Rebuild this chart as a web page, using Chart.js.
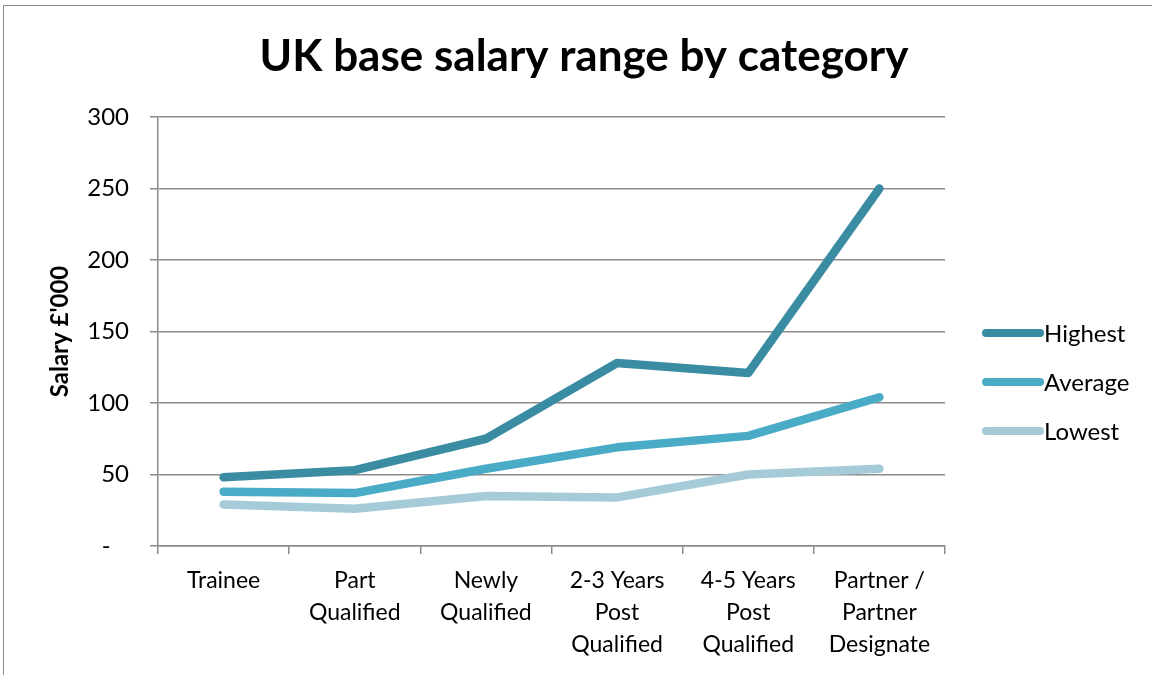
<!DOCTYPE html>
<html lang='en'>
<head>
  <meta charset='UTF-8'>
  <title>UK base salary range by category</title>
  <script src="https://cdn.jsdelivr.net/npm/chart.js@4.4.1/dist/chart.umd.min.js"></script>
  <style>
    html, body { margin:0; padding:0; background:#fff; }
    #frame { position:absolute; left:3px; top:5px; width:1160px; height:700px; border-left:1.5px solid #8c8c8c; border-top:1.5px solid #8c8c8c; }
    #wrap { position:absolute; left:0; top:0; width:1152px; height:675px; }
  </style>
</head>
<body>
  <div id="frame"></div>
  <div id="wrap"><canvas id="myChart" width="1152" height="675"></canvas></div>
<script>
  // data
  var categories = [
    'Trainee',
    ['Part', 'Qualified'],
    ['Newly', 'Qualified'],
    ['2-3 Years', 'Post', 'Qualified'],
    ['4-5 Years', 'Post', 'Qualified'],
    ['Partner /', 'Partner', 'Designate']
  ];
  var highest = [48, 53, 75, 128, 121, 250];
  var average = [38, 37, 54, 69, 77, 104];
  var lowest  = [29, 26, 35, 34, 50, 54];
  var yTicks  = [0, 50, 100, 150, 200, 250, 300];

  var FONT = 'Lato, "Open Sans", sans-serif';
  var GRID = '#8c8c8c';

  // title + legend drawn on the canvas
  var extras = {
    id: 'extras',
    afterDraw: function(chart){
      var c = chart.ctx;
      c.save();
      c.fillStyle = '#000';
      c.font = 'bold 44px ' + FONT;
      c.textAlign = 'center';
      c.textBaseline = 'middle';
      c.fillText('UK base salary range by category', 584, 57);

      c.font = '24px ' + FONT;
      c.textAlign = 'left';
      chart.data.datasets.forEach(function(ds, i){
        var y = 333 + i * 49;
        c.strokeStyle = ds.borderColor;
        c.lineWidth = 8;
        c.lineCap = 'round';
        c.beginPath();
        c.moveTo(986, y);
        c.lineTo(1040, y);
        c.stroke();
        c.fillText(ds.label, 1044, y + 1);
      });
      c.restore();
    }
  };

  var ctx = document.getElementById('myChart').getContext('2d');
  var myChart = new Chart(ctx, {
    type: 'line',
    data: {
      labels: categories,
      datasets: [
        { label: 'Highest', data: highest, borderColor: '#398ca1' },
        { label: 'Average', data: average, borderColor: '#4aabc6' },
        { label: 'Lowest',  data: lowest,  borderColor: '#a5cbd8' }
      ]
    },
    options: {
      responsive: false,
      animation: false,
      layout: { padding: { left: 46, top: 117, right: 207, bottom: 0 } },
      elements: {
        line: { borderWidth: 8.5, tension: 0, borderCapStyle: 'round', borderJoinStyle: 'round' },
        point: { radius: 0, hoverRadius: 0 }
      },
      plugins: {
        legend: { display: false },
        title: { display: false },
        tooltip: { enabled: false }
      },
      scales: {
        x: {
          offset: true,
          afterFit: function(s){ s.height = 129; },
          grid: { offset: true, drawOnChartArea: false, drawTicks: true, tickLength: 8, color: GRID, lineWidth: 1.5 },
          border: { color: GRID, width: 1.5 },
          ticks: { color: '#000', font: { family: FONT, size: 23, lineHeight: 1.4 }, padding: 10, maxRotation: 0, autoSkip: false }
        },
        y: {
          min: 0, max: 300,
          afterFit: function(s){ s.width = 112; },
          afterBuildTicks: function(s){ s.ticks = yTicks.map(function(v){ return { value: v }; }); },
          grid: { color: GRID, lineWidth: 1.5, tickLength: 8 },
          border: { color: GRID, width: 1.5 },
          ticks: {
            color: '#000', font: { family: FONT, size: 24 }, padding: 21,
            callback: function(v){ return v === 0 ? '-   ' : v; }
          },
          title: { display: true, text: "Salary £'000", color: '#000', font: { family: FONT, size: 24, weight: 'bold' }, padding: 0 }
        }
      }
    },
    plugins: [extras]
  });
</script>
</body>
</html>
